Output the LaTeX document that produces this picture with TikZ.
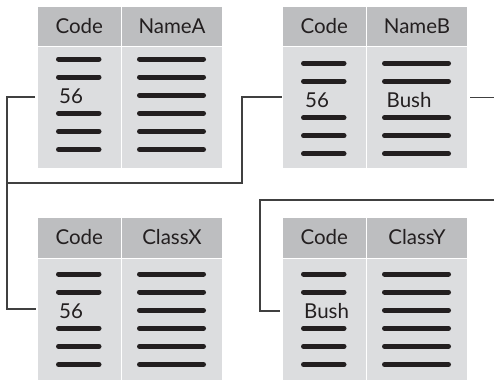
\documentclass[tikz,border=0pt]{standalone}
\usepackage{fontspec}
\setmainfont{Lato}
\definecolor{hdrgray}{HTML}{BDBEC0}
\definecolor{bodygray}{HTML}{DCDDDF}
\definecolor{barcol}{HTML}{231F20}
\definecolor{conncol}{HTML}{404040}
\tikzset{
  cell/.style={inner sep=0pt, outer sep=0pt, anchor=north west, minimum width=#1},
  hdr/.style={cell=#1, fill=hdrgray, font=\fontsize{20.5}{24}\selectfont, text=barcol},
  bodycell/.style={cell=#1, fill=bodygray},
  bar/.style={line width=5pt, line cap=round, draw=barcol},
  celltext/.style={inner sep=0pt, anchor=west, font=\fontsize{20.5}{24}\selectfont, text=barcol},
  conn/.style={draw=conncol, line width=1.1pt}
}
% #1 prefix, #2 left, #3 top, #4 header bottom, #5 bottom, #6 first row, #7 second header
\newcommand\dbtab[7]{%
  \node[hdr=82.5pt, minimum height={#4pt-#3pt-0.5pt}] (#1hc) at (#2,#3) {Code};
  \node[hdr=100pt, minimum height={#4pt-#3pt-0.5pt}] (#1hn) at (#2+84,#3) {#7};
  \node[bodycell=82.5pt, minimum height={#5pt-#4pt-0.5pt}] (#1bc) at (#2,#4+0.5) {};
  \node[bodycell=100pt, minimum height={#5pt-#4pt-0.5pt}] (#1bn) at (#2+84,#4+0.5) {};
  \foreach \k in {0,1,3,4,5}{
    \draw[bar] (#2+20.5,#6+18.1*\k) -- (#2+61,#6+18.1*\k);
  }
  \foreach \k in {0,1,2,3,4,5}{
    \draw[bar] (#2+84+17.5,#6+18.1*\k) -- (#2+84+81.5,#6+18.1*\k);
  }
}
\newcommand\dbtabB[7]{%
  \node[hdr=82.5pt, minimum height={#4pt-#3pt-0.5pt}] (#1hc) at (#2,#3) {Code};
  \node[hdr=100pt, minimum height={#4pt-#3pt-0.5pt}] (#1hn) at (#2+84,#3) {#7};
  \node[bodycell=82.5pt, minimum height={#5pt-#4pt-0.5pt}] (#1bc) at (#2,#4+0.5) {};
  \node[bodycell=100pt, minimum height={#5pt-#4pt-0.5pt}] (#1bn) at (#2+84,#4+0.5) {};
  \foreach \k in {0,1,3,4,5}{
    \draw[bar] (#2+20.5,#6+18.1*\k) -- (#2+61,#6+18.1*\k);
    \draw[bar] (#2+84+17.5,#6+18.1*\k) -- (#2+84+81.5,#6+18.1*\k);
  }
}
\begin{document}
\begin{tikzpicture}[x=1pt,y=-1pt]
\useasboundingbox (0,0) rectangle (494,381);
% tables
\dbtab{A}{38}{7}{46.5}{168}{59}{NameA}
\dbtabB{B}{283}{7}{46.5}{168}{63.3}{NameB}
\dbtab{X}{38}{217.5}{258}{380}{274}{ClassX}
\dbtab{Y}{283}{217.5}{258}{380}{274}{ClassY}
% row-3 texts
\node[celltext] (A56) at (59,96) {56};
\node[celltext] (B56) at (305,100) {56};
\node[celltext] (Bbush) at (386.5,100) {Bush};
\node[celltext] (X56) at (59,311) {56};
\node[celltext] (Ybush) at (304,311) {Bush};
% connector points
\coordinate (Aend) at ([xshift=-3pt]Abc.west |- 0,97);
\coordinate (Bend) at ([xshift=-1pt]Bbc.west |- 0,97);
\coordinate (Xend) at ([xshift=-2pt]Xbc.west |- 0,309);
\coordinate (Yend) at ([xshift=-3pt]Ybc.west |- 0,311);
\coordinate (Bout) at ([xshift=3pt]Bbn.east |- 0,97.5);
\coordinate (Bfree) at (494,97.5);
\coordinate (Yfree) at (494,200);
\coordinate (jL) at (7,183);
% connectors
\draw[conn] (Aend) -- (7,97) -- (7,309) -- (Xend);
\draw[conn] (jL) -- (242,183) -- (242,97) -- (Bend);
\draw[conn] (Bout) -- (Bfree);
\draw[conn] (Yfree) -- (260,200) -- (260,311) -- (Yend);
\end{tikzpicture}
\end{document}
